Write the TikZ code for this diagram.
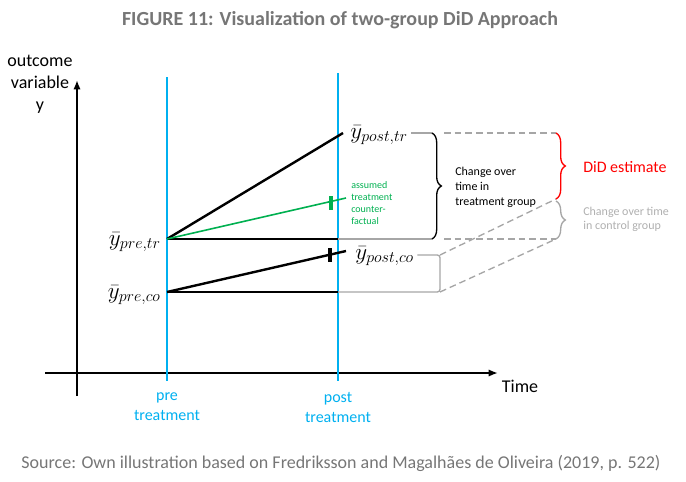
\documentclass[tikz,border=0pt]{standalone}
\usepackage{fontspec}
\setmainfont{Carlito}
\usetikzlibrary{arrows.meta, decorations.pathreplacing, positioning, calc}
\definecolor{titlegray}{RGB}{118,118,118}
\definecolor{timeblue}{RGB}{0,176,240}
\definecolor{cfgreen}{RGB}{0,176,80}
\definecolor{linegray}{RGB}{166,166,166}
\definecolor{ctrlgray}{RGB}{175,175,175}
\definecolor{didred}{RGB}{255,0,0}

\begin{document}
\begin{tikzpicture}[x=0.75pt, y=-0.75pt,
    axis/.style={-{Latex[length=7pt,width=5.5pt]}, line width=2pt},
    tline/.style={draw=timeblue, line width=1.5pt},
    tlabel/.style={font=\fontsize{12}{15}\selectfont, text=timeblue, align=center},
    trend/.style={line width=1.8pt},
    base/.style={line width=1.1pt},
    guide/.style={draw=linegray, line width=1pt},
    gdash/.style={draw=linegray, dash pattern=on 5pt off 3pt, line width=1pt},
    ybar/.style={font=\fontsize{16.5}{18}\selectfont, inner sep=0pt},
    brc/.style={decorate, decoration={brace, amplitude=7pt}, line width=1pt},
    note/.style={font=\fontsize{9}{11.25}\selectfont, align=left, inner sep=0pt}
]
    \useasboundingbox (0,0) rectangle (686,482);

    % title and source
    \node[font=\fontsize{15}{18}\selectfont\bfseries, text=titlegray] (title) at (340,20)
        {FIGURE 11: Visualization of two-group DiD Approach};
    \node[font=\fontsize{13.5}{16}\selectfont, text=titlegray] (src) at (341,463)
        {Source: Own illustration based on Fredriksson and Magalhães de Oliveira (2019, p. 522)};

    % axes
    \coordinate (ybot) at (77,396);
    \coordinate (ytop) at (77,80);
    \coordinate (xlft) at (45,373);
    \coordinate (xrgt) at (498,373);
    \draw[axis] (ybot) -- (ytop);
    \draw[axis] (xlft) -- (xrgt);
    \node[font=\fontsize{13.5}{16.5}\selectfont, align=center] (ylab) at (40,84) {outcome\\variable\\y};
    \node[font=\fontsize{13.5}{16.5}\selectfont] (xlab) at (520,386) {Time};

    % time lines
    \coordinate (pretop) at (167,77);
    \coordinate (prebot) at (167,381);
    \coordinate (posttop) at (338,73);
    \coordinate (postbot) at (338,381);
    \draw[tline] (pretop) -- (prebot);
    \draw[tline] (posttop) -- (postbot);
    \node[tlabel] (prelab) at (167,407) {pre\\treatment};
    \node[tlabel] (postlab) at (338,407) {post\\treatment};

    % group means
    \coordinate (pretr) at (167,239);
    \coordinate (preco) at (167,292);
    \coordinate (posttr) at (343,133);
    \coordinate (postco) at (346,251);
    \coordinate (cf) at (346,198);
    \coordinate (trbase) at (338,239);
    \coordinate (cobase) at (338,292);
    \node[ybar, anchor=east] (lpretr) at (161,242) {$\bar{y}_{pre,tr}$};
    \node[ybar, anchor=east] (lpreco) at (161,295) {$\bar{y}_{pre,co}$};
    \node[ybar, anchor=west] (lposttr) at (350,135) {$\bar{y}_{post,tr}$};
    \node[ybar, anchor=west] (lpostco) at (355,256) {$\bar{y}_{post,co}$};

    \draw[trend] (pretr) -- (posttr);
    \draw[trend] (preco) -- (postco);
    \draw[base] (pretr) -- (trbase);
    \draw[base] (preco) -- (cobase);
    \draw[cfgreen, line width=1.2pt] (pretr) -- (cf);
    \draw[cfgreen, line width=3pt] (331,196) -- (331,210);
    \draw[line width=3pt] (330,248) -- (330,262);
    \node[note, font=\fontsize{7.5}{9}\selectfont, text=cfgreen, anchor=west] (cflab) at (351,203)
        {assumed\\treatment\\counter-\\factual};

    % treatment group change
    \coordinate (trtop) at (432,133);
    \coordinate (trbot) at (432,239);
    \draw[guide] (lposttr.east) ++(3,-2) -- (trtop);
    \draw[guide] (trbase) -- (trbot);
    \draw[brc] (trtop) -- (trbot);
    \node[note, anchor=west] (trlab) at (455,187) {Change over\\time in\\treatment group};

    % control group change
    \coordinate (cotop) at (440,255);
    \coordinate (cobot) at (440,292);
    \draw[guide, rounded corners=2pt] (lpostco.east) ++(3,-1) -- (cotop) -- (cobot) -- (cobase);

    % dashed projections
    \coordinate (didtop) at (556,133);
    \coordinate (didbot) at (556,199);
    \coordinate (ctop) at (556,201);
    \coordinate (cbot) at (556,239);
    \draw[gdash] (444,133) -- (didtop);
    \draw[gdash] (444,239) -- (cbot);
    \draw[gdash] (cotop) -- (didbot);
    \draw[gdash] (cobot) -- (cbot);

    % DiD braces
    \draw[brc, draw=didred] (didtop) -- (didbot);
    \draw[brc, draw=linegray] (ctop) -- (cbot);
    \node[font=\fontsize{12}{14}\selectfont, text=didred, anchor=west, inner sep=0pt] (didlab) at (583,167) {DiD estimate};
    \node[note, text=ctrlgray, anchor=west, font=\fontsize{9}{10.5}\selectfont] (colab) at (583,219) {Change over time\\in control group};
\end{tikzpicture}
\end{document}
